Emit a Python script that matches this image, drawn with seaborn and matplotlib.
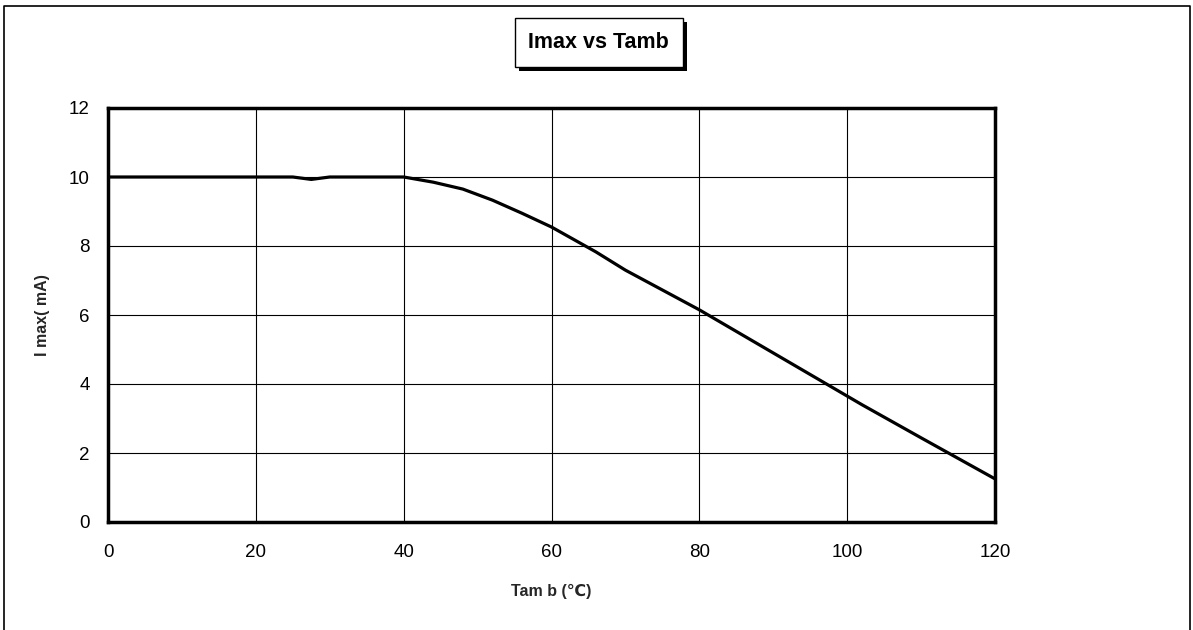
import matplotlib.pyplot as plt
import seaborn as sns
import pandas as pd
from matplotlib.patches import Rectangle
from matplotlib.lines import Line2D

tamb = [0, 25, 27.5, 30, 40, 44, 48, 52, 56, 60, 66, 70, 80, 90, 100, 102, 110, 120]
imax = [10, 10, 9.93, 10, 10, 9.85, 9.65, 9.33, 8.95, 8.55, 7.83, 7.3, 6.15, 4.9, 3.65, 3.4, 2.44, 1.25]
x_ticks = [0, 20, 40, 60, 80, 100, 120]
y_ticks = [0, 2, 4, 6, 8, 10, 12]

sns.set_theme(style="white")
plt.rcParams['font.family'] = ['Liberation Sans', 'DejaVu Sans']

df = pd.DataFrame({'Tamb': tamb, 'Imax': imax})

fig = plt.figure(figsize=(11.93, 6.3), dpi=100)
ax = fig.add_axes([108 / 1193, 108 / 630, 887 / 1193, 414 / 630])

sns.lineplot(data=df, x='Tamb', y='Imax', ax=ax, color='black', linewidth=2.3)

ax.set_xlim(0, 120)
ax.set_ylim(0, 12)
ax.set_xticks(x_ticks)
ax.set_yticks(y_ticks)
ax.grid(True, color='black', linewidth=0.8)
ax.tick_params(axis='both', labelsize=13.5, length=0, colors='black')
ax.tick_params(axis='y', pad=13)
ax.tick_params(axis='x', pad=16)
for s in ax.spines.values():
    s.set_color('black')
    s.set_linewidth(2.5)

ax.set_xlabel('Tam b (℃)', fontsize=11.5, fontweight='bold')
ax.set_ylabel('I max( mA)', fontsize=11.5, fontweight='bold')
ax.xaxis.set_label_coords(0.5, -(591 - 522) / 414)
ax.yaxis.set_label_coords(-(108 - 42) / 887, 0.5)
ax.xaxis.label.set_va('center')
ax.yaxis.label.set_va('center')

# Titulo en caja con sombra
fig.patches.append(Rectangle((519 / 1193, 1 - 71 / 630), 168 / 1193, 49 / 630,
                             transform=fig.transFigure, facecolor='black', edgecolor='none'))
fig.patches.append(Rectangle((515 / 1193, 1 - 67 / 630), 168 / 1193, 49 / 630,
                             transform=fig.transFigure, facecolor='white', edgecolor='black', linewidth=1))
fig.text(598 / 1193, 1 - 42 / 630, 'Imax vs Tamb', ha='center', va='center',
         fontsize=15.5, fontweight='bold', color='black')

# Borde exterior (sin borde inferior visible)
bx = [4 / 1193, 4 / 1193, 1190 / 1193, 1190 / 1193]
by = [0, 1 - 6 / 630, 1 - 6 / 630, 0]
fig.lines.append(Line2D(bx, by, transform=fig.transFigure, color='black', linewidth=1.2))

fig.savefig('out.png', dpi=100)
